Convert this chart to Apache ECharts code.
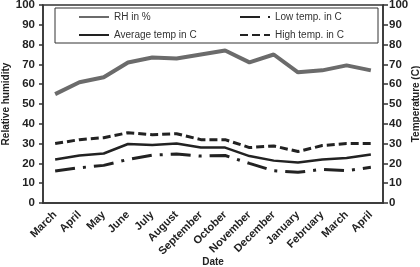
<!DOCTYPE html>
<html>
<head>
<meta charset="utf-8">
<script src="https://cdn.jsdelivr.net/npm/echarts@6/dist/echarts.min.js"></script>
<style>
html,body{margin:0;padding:0;background:#fff;}
#chart{width:420px;height:267px;}
</style>
</head>
<body>
<div id="chart"></div>
<script>
var months = ['March','April','May','June','July','August','September','October','November','December','January','February','March','April'];
var rh = [55, 61, 63.5, 71, 73.5, 73, 75, 77, 71, 75, 66, 67, 69.5, 67];
var avgTemp = [22, 24, 25, 29.8, 29.3, 30, 28, 28, 23.7, 21.4, 20.4, 22, 22.7, 24.5];
var lowTemp = [16.2, 17.8, 19, 22, 24.2, 24.7, 23.7, 24, 20, 16.3, 15.5, 17, 16.3, 18];
var highTemp = [30, 32, 33, 35.5, 34.5, 35, 32, 32, 28, 28.8, 26, 29, 30, 30];

var myChart = echarts.init(document.getElementById('chart'));
var font = 'Liberation Sans, Arial, sans-serif';

var legendBase = {
    orient: 'vertical',
    top: 12, padding: 0,
    itemWidth: 30, itemHeight: 10, itemGap: 8,
    selectedMode: false,
    itemStyle: {opacity: 0},
    textStyle: {fontFamily: font, fontSize: 10, color: '#333'},
    z: 5
};

const option = {
    animation: false,
    grid: {
        left: 43, right: 37, top: 5, bottom: 64,
        outerBoundsMode: 'none',
        show: true, borderColor: '#333', borderWidth: 1.5
    },
    graphic: [{
        type: 'rect',
        shape: {x: 55, y: 8, width: 323, height: 35},
        style: {fill: '#fff', stroke: '#333', lineWidth: 1},
        z: 1
    }],
    legend: [
        Object.assign({}, legendBase, {left: 78, data: ['RH in %', 'Average temp in C']}),
        Object.assign({}, legendBase, {left: 239, data: ['Low temp. in C', 'High temp. in C']})
    ],
    xAxis: {
        type: 'category',
        data: months,
        boundaryGap: true,
        name: 'Date',
        nameLocation: 'middle',
        nameGap: 54,
        nameMoveOverlap: false,
        nameTextStyle: {fontFamily: font, fontSize: 10, fontWeight: 'bold', color: '#222'},
        axisLine: {lineStyle: {color: '#333', width: 1.5}},
        axisTick: {length: 4, lineStyle: {color: '#333', width: 1.5}},
        axisLabel: {rotate: 45, interval: 0, fontFamily: font, fontSize: 11, fontWeight: 'bold', color: '#222', margin: 10}
    },
    yAxis: [{
        type: 'value',
        min: 0, max: 100, interval: 10,
        name: 'Relative humidity',
        nameLocation: 'middle',
        nameGap: 32,
        nameMoveOverlap: false,
        nameTextStyle: {fontFamily: font, fontSize: 10, fontWeight: 'bold', color: '#222'},
        splitLine: {show: false},
        axisLine: {show: true, lineStyle: {color: '#333', width: 1.5}},
        axisTick: {show: true, length: 4, lineStyle: {color: '#333', width: 1.5}},
        axisLabel: {fontFamily: font, fontSize: 11.5, fontWeight: 'bold', color: '#222', margin: 8}
    }, {
        type: 'value',
        min: 0, max: 100, interval: 10,
        position: 'right',
        name: 'Temperature (C)',
        nameLocation: 'middle',
        nameGap: 28,
        nameRotate: 90,
        nameMoveOverlap: false,
        nameTextStyle: {fontFamily: font, fontSize: 10, fontWeight: 'bold', color: '#222'},
        splitLine: {show: false},
        axisLine: {show: true, lineStyle: {color: '#333', width: 1.5}},
        axisTick: {show: true, length: 5, lineStyle: {color: '#333', width: 1.5}},
        axisLabel: {fontFamily: font, fontSize: 11.5, fontWeight: 'bold', color: '#222', margin: 6}
    }],
    series: [{
        name: 'RH in %',
        type: 'line',
        data: rh,
        symbol: 'none',
        lineStyle: {color: '#6b6b6b', width: 4},
        itemStyle: {color: '#6b6b6b'}
    }, {
        name: 'Low temp. in C',
        type: 'line',
        yAxisIndex: 1,
        data: lowTemp,
        symbol: 'none',
        lineStyle: {color: '#222', width: 3, type: [20, 8, 3, 8]},
        itemStyle: {color: '#222'}
    }, {
        name: 'Average temp in C',
        type: 'line',
        yAxisIndex: 1,
        data: avgTemp,
        symbol: 'none',
        lineStyle: {color: '#222', width: 2.5},
        itemStyle: {color: '#222'}
    }, {
        name: 'High temp. in C',
        type: 'line',
        yAxisIndex: 1,
        data: highTemp,
        symbol: 'none',
        lineStyle: {color: '#222', width: 3, type: [8, 4]},
        itemStyle: {color: '#222'}
    }]
};

myChart.setOption(option);
</script>
</body>
</html>
